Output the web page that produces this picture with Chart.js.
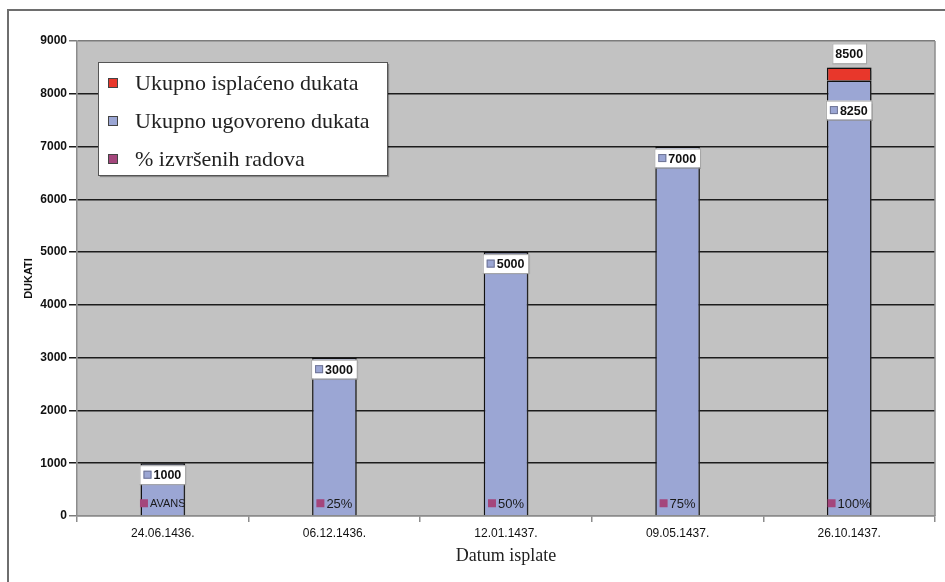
<!DOCTYPE html>
<html>
<head>
<meta charset="utf-8">
<script src="https://cdn.jsdelivr.net/npm/chart.js@4.4.0/dist/chart.umd.min.js"></script>
<style>
  html, body { margin: 0; padding: 0; background: #fff; }
  #wrap { width: 945px; height: 582px; }
</style>
</head>
<body>
<div id="wrap"><canvas id="chart" width="945" height="582"></canvas></div>
<script>
// podaci
var datumi = ['24.06.1436.', '06.12.1436.', '12.01.1437.', '09.05.1437.', '26.10.1437.'];
var ugovoreno = [1000, 3000, 5000, 7000, 8250];
var isplaceno = [0, 0, 0, 0, 250];
var isplacenoUkupno = [null, null, null, null, 8500];
var procenat = [0, 0, 0, 0, 0];
var procenatOznake = ['AVANS', '25%', '50%', '75%', '100%'];
var yMax = 9000;
var yStep = 1000;

var BLUE = '#9ba6d4';
var RED = '#e8372b';
var PURPLE = '#a4467c';
var SANS = '"Liberation Sans", Arial, sans-serif';
var SERIF = '"Liberation Serif", "Times New Roman", serif';

var pozadina = {
  id: 'pozadina',
  beforeDraw: function(chart) {
    var ctx = chart.ctx, a = chart.chartArea;
    ctx.save();
    ctx.fillStyle = '#fff';
    ctx.fillRect(0, 0, chart.width, chart.height);
    ctx.fillStyle = '#c2c2c2';
    ctx.fillRect(a.left, a.top, a.right - a.left, a.bottom - a.top);
    ctx.strokeStyle = '#6e6e6e';
    ctx.lineWidth = 2;
    ctx.strokeRect(8, 10, 945, 590);
    ctx.restore();
  },
  beforeDatasetsDraw: function(chart) {
    var ctx = chart.ctx;
    ctx.save();
    ctx.shadowColor = 'rgba(60,60,60,0.45)';
    ctx.shadowOffsetX = 2;
    ctx.shadowOffsetY = 0;
    ctx.shadowBlur = 1;
  },
  afterDatasetsDraw: function(chart) {
    chart.ctx.restore();
  }
};

var oznake = {
  id: 'oznake',
  afterDraw: function(chart) {
    var ctx = chart.ctx, a = chart.chartArea;
    ctx.save();

    // desna ivica
    ctx.strokeStyle = '#8c8c8c';
    ctx.lineWidth = 1.5;
    ctx.beginPath();
    ctx.moveTo(a.right, a.top);
    ctx.lineTo(a.right, a.bottom);
    ctx.stroke();

    var plave = chart.getDatasetMeta(0).data;
    var crvene = chart.getDatasetMeta(1).data;

    // ugovoreno
    ctx.textBaseline = 'middle';
    plave.forEach(function(bar, i) {
      ctx.font = 'bold 12.5px ' + SANS;
      var txt = String(ugovoreno[i]);
      var tw = ctx.measureText(txt).width;
      var w = tw + 18, h = 19;
      var left = bar.x - bar.width / 2 - 1;
      var top = bar.y + (isplaceno[i] > 0 ? 20 : 2);
      ctx.shadowColor = 'rgba(0,0,0,0.25)';
      ctx.shadowOffsetX = 1; ctx.shadowOffsetY = 1; ctx.shadowBlur = 1;
      ctx.fillStyle = '#fff';
      ctx.fillRect(left, top, w, h);
      ctx.shadowColor = 'transparent';
      ctx.strokeStyle = '#a8a8a8';
      ctx.lineWidth = 1;
      ctx.strokeRect(left + 0.5, top + 0.5, w, h);
      ctx.fillStyle = BLUE;
      ctx.fillRect(left + 4, top + h / 2 - 4, 8, 8);
      ctx.strokeStyle = '#6f7595';
      ctx.strokeRect(left + 4.5, top + h / 2 - 3.5, 7, 7);
      ctx.fillStyle = '#111';
      ctx.textAlign = 'left';
      ctx.fillText(txt, left + 14, top + h / 2 + 1);
    });

    // isplaceno ukupno
    crvene.forEach(function(bar, i) {
      if (isplacenoUkupno[i] == null) return;
      ctx.font = 'bold 12.5px ' + SANS;
      var txt = String(isplacenoUkupno[i]);
      var tw = ctx.measureText(txt).width;
      var w = tw + 6, h = 20;
      var left = bar.x - w / 2;
      var top = bar.y - 4 - h;
      ctx.shadowColor = 'rgba(0,0,0,0.25)';
      ctx.shadowOffsetX = 1; ctx.shadowOffsetY = 1; ctx.shadowBlur = 1;
      ctx.fillStyle = '#fff';
      ctx.fillRect(left, top, w, h);
      ctx.shadowColor = 'transparent';
      ctx.strokeStyle = '#a8a8a8';
      ctx.strokeRect(left + 0.5, top + 0.5, w, h);
      ctx.fillStyle = '#111';
      ctx.textAlign = 'center';
      ctx.fillText(txt, bar.x, top + h / 2 + 1);
    });

    // % izvrsenih radova
    plave.forEach(function(bar, i) {
      var txt = procenatOznake[i];
      ctx.font = (txt.length > 4 ? '11px ' : '13px ') + SANS;
      var tw = ctx.measureText(txt).width;
      var total = 8 + 2 + tw;
      var x0 = bar.x - total / 2;
      var yc = bar.base - 12;
      ctx.fillStyle = PURPLE;
      ctx.fillRect(x0, yc - 4, 8, 8);
      ctx.fillStyle = '#1a1a1a';
      ctx.textAlign = 'left';
      ctx.fillText(txt, x0 + 10, yc + 1);
    });

    // legenda
    var lx = 98, ly = 62, lw = 289, lh = 113;
    ctx.shadowColor = 'rgba(0,0,0,0.3)';
    ctx.shadowOffsetX = 2; ctx.shadowOffsetY = 2; ctx.shadowBlur = 1;
    ctx.fillStyle = '#fff';
    ctx.fillRect(lx, ly, lw, lh);
    ctx.shadowColor = 'transparent';
    ctx.strokeStyle = '#555';
    ctx.lineWidth = 1;
    ctx.strokeRect(lx + 0.5, ly + 0.5, lw, lh);
    var red = [1, 0, 2];
    ctx.font = '22px ' + SERIF;
    ctx.textAlign = 'left';
    red.forEach(function(di, k) {
      var ds = chart.data.datasets[di];
      var yc = ly + 21 + k * 38;
      ctx.fillStyle = ds.legendColor;
      ctx.fillRect(lx + 10, yc - 5, 10, 10);
      ctx.strokeStyle = '#444';
      ctx.strokeRect(lx + 10.5, yc - 4.5, 9, 9);
      ctx.fillStyle = '#222';
      ctx.fillText(ds.label, lx + 37, yc + 1);
    });

    ctx.restore();
  }
};

new Chart(document.getElementById('chart').getContext('2d'), {
  type: 'bar',
  data: {
    labels: datumi,
    datasets: [
      {
        label: 'Ukupno ugovoreno dukata',
        data: ugovoreno,
        backgroundColor: BLUE,
        legendColor: BLUE,
        borderColor: '#111',
        borderWidth: 1.5,
        barPercentage: 0.26,
        categoryPercentage: 1
      },
      {
        label: 'Ukupno isplaćeno dukata',
        data: isplaceno,
        backgroundColor: RED,
        legendColor: RED,
        borderColor: '#111',
        borderWidth: 1.5,
        barPercentage: 0.26,
        categoryPercentage: 1
      },
      {
        label: '% izvršenih radova',
        data: procenat,
        backgroundColor: PURPLE,
        legendColor: PURPLE,
        borderWidth: 0,
        barPercentage: 0.26,
        categoryPercentage: 1
      }
    ]
  },
  options: {
    responsive: false,
    animation: false,
    layout: { padding: { left: 0, top: 41, right: 10, bottom: 0 } },
    plugins: {
      legend: { display: false },
      tooltip: { enabled: false }
    },
    scales: {
      x: {
        stacked: true,
        afterFit: function(scale) { scale.height = 66; },
        grid: {
          display: true,
          drawOnChartArea: false,
          drawTicks: true,
          tickLength: 6,
          color: '#8c8c8c',
          lineWidth: 1.5
        },
        border: { color: '#8c8c8c', width: 1.5 },
        ticks: {
          padding: 4,
          color: '#111',
          font: { family: SANS, size: 12 }
        },
        title: {
          display: true,
          text: 'Datum isplate',
          color: '#222',
          font: { family: SERIF, size: 18 },
          padding: { top: 4, bottom: 15 }
        }
      },
      y: {
        stacked: true,
        min: 0,
        max: yMax,
        afterFit: function(scale) { scale.width = 77; },
        ticks: {
          stepSize: yStep,
          padding: 2,
          color: '#111',
          font: { family: SANS, size: 12, weight: 'bold' },
          callback: function(v) { return String(v); }
        },
        grid: {
          tickLength: 8,
          lineWidth: 1.5,
          color: function(c) {
            var v = c.tick ? c.tick.value : null;
            return (v === yMax || v === 0) ? '#7c7c7c' : '#1c1c1c';
          }
        },
        border: { color: '#8c8c8c', width: 1.5 },
        title: {
          display: true,
          text: 'DUKATI',
          color: '#111',
          font: { family: SANS, size: 11, weight: 'bold' },
          padding: { top: 22, bottom: 0 }
        }
      }
    }
  },
  plugins: [pozadina, oznake]
});
</script>
</body>
</html>
